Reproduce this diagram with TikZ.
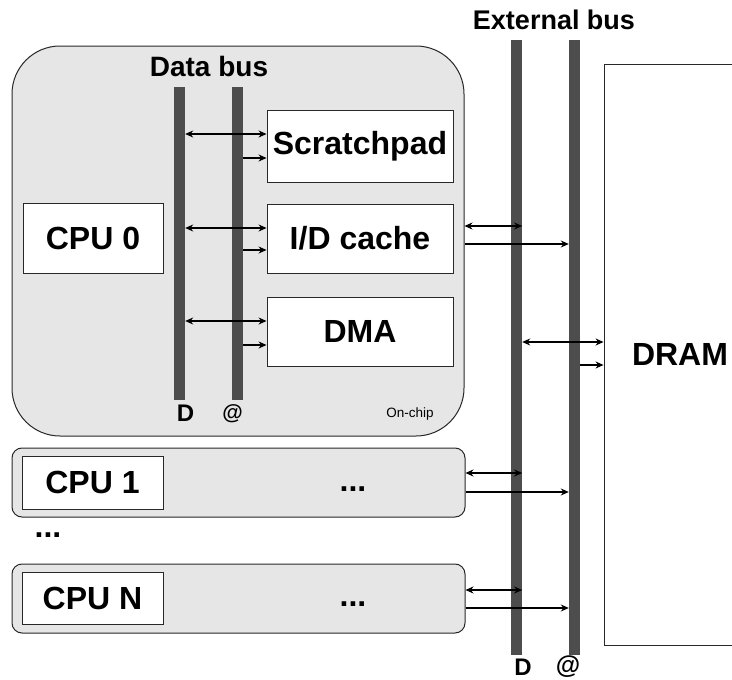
\documentclass[tikz,border=0pt]{standalone}
\usepackage{fontspec}
\setmainfont{Liberation Sans}
\usetikzlibrary{arrows.meta}

\begin{document}
\begin{tikzpicture}[x=1pt,y=-1pt,
  frame/.style={draw=frameColor,fill=chipColor,line width=1pt,inner sep=0pt},
  blk/.style={draw=frameColor,fill=white,line width=0.9pt,inner sep=0pt,
    font=\fontsize{32}{38}\selectfont\bfseries},
  bus/.style={fill=busColor,draw=none,inner sep=0pt,minimum width=11pt},
  lbl/.style={inner sep=0pt,font=\fontsize{#1}{#1}\selectfont\bfseries},
  link/.style={line width=1.2pt,-{Stealth[length=8pt,width=7pt]}},
  dlink/.style={line width=1.2pt,{Stealth[length=8pt,width=7pt]}-{Stealth[length=8pt,width=7pt]}}]
\definecolor{chipColor}{RGB}{230,230,230}
\definecolor{busColor}{RGB}{77,77,77}
\definecolor{frameColor}{RGB}{40,40,40}
\useasboundingbox[fill=white] (0,0) rectangle (732,680);

% chip and the cpu rows
\node[frame,rounded corners=48pt,minimum width=452pt,minimum height=390pt] (onchip) at (238,241) {};
\node[frame,rounded corners=10pt,minimum width=453pt,minimum height=69pt] (rowOne) at (238.5,482.5) {};
\node[frame,rounded corners=10pt,minimum width=453pt,minimum height=69pt] (rowN) at (238.5,598.5) {};

% buses
\node[bus,minimum height=313pt] (dataD) at (179.5,243.5) {};
\node[bus,minimum height=313pt] (dataA) at (237.5,243.5) {};
\node[bus,minimum height=615pt] (extD) at (516.5,347.5) {};
\node[bus,minimum height=615pt] (extA) at (574.5,347.5) {};
\node[lbl=28] (dataLbl) at (209,66) {Data bus};
\node[lbl=27] (extLbl) at (554,20) {External bus};
\node[lbl=24] (dataDLbl) at (185.5,413) {D};
\node[lbl=21] (dataALbl) at (232.5,414) {@};
\node[lbl=24] (extDLbl) at (523,667) {D};
\node[lbl=25] (extALbl) at (568,667) {@};
\node[inner sep=0pt,font=\fontsize{13.5}{14}\selectfont] (chipLbl) at (410,414) {On-chip};

% blocks
\node[blk,minimum width=186pt,minimum height=72pt] (scratch) at (360,146) {Scratchpad};
\node[blk,minimum width=186pt,minimum height=69pt] (cache) at (360,238.5) {I/D cache};
\node[blk,minimum width=186pt,minimum height=69pt] (dma) at (360,331.5) {DMA};
\node[blk,minimum width=140pt,minimum height=70pt] (cpuZero) at (93,238) {CPU 0};
\node[blk,minimum width=141pt,minimum height=53pt] (cpuOne) at (92.5,482.5) {CPU 1};
\node[blk,minimum width=141pt,minimum height=52pt] (cpuN) at (92.5,598.5) {CPU N};
\node[blk,minimum width=152pt,minimum height=581pt] (dram) at (680,354.5) {DRAM};
\node[lbl=32] (dotsOne) at (353,489) {...};
\node[lbl=32] (dotsN) at (353,604) {...};
\node[lbl=32] (dotsRows) at (48,535) {...};

% data bus links
\draw[dlink] (dataD.east |- 0,134) -- (scratch.west |- 0,134);
\draw[link] (dataA.east |- 0,158) -- (scratch.west |- 0,158);
\draw[dlink] (dataD.east |- 0,228) -- (cache.west |- 0,228);
\draw[link] (dataA.east |- 0,250) -- (cache.west |- 0,250);
\draw[dlink] (dataD.east |- 0,321) -- (dma.west |- 0,321);
\draw[link] (dataA.east |- 0,345) -- (dma.west |- 0,345);

% external bus links
\draw[dlink] (onchip.east |- 0,226) -- (extD.east |- 0,226);
\draw[link] (onchip.east |- 0,244) -- (extA.west |- 0,244);
\draw[dlink] (rowOne.east |- 0,473) -- (extD.east |- 0,473);
\draw[link] (rowOne.east |- 0,492) -- (extA.west |- 0,492);
\draw[dlink] (rowN.east |- 0,590) -- (extD.east |- 0,590);
\draw[link] (rowN.east |- 0,608) -- (extA.west |- 0,608);
\draw[dlink] (extD.east |- 0,342) -- (dram.west |- 0,342);
\draw[link] (extA.east |- 0,365) -- (dram.west |- 0,365);
\end{tikzpicture}
\end{document}
